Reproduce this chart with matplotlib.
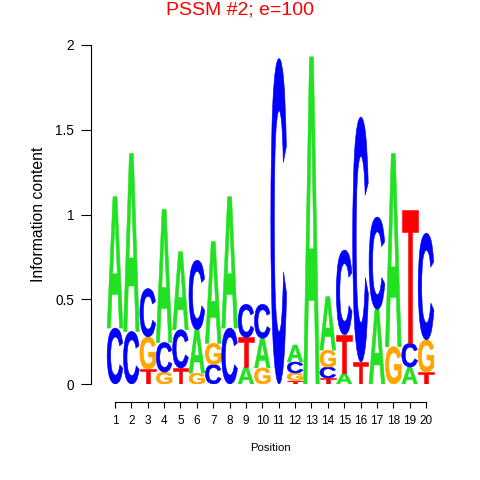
import matplotlib
matplotlib.use("Agg")
import matplotlib.pyplot as plt
from matplotlib.textpath import TextPath
from matplotlib.font_manager import FontProperties
from matplotlib.patches import PathPatch
from matplotlib.transforms import Affine2D

positions = list(range(1, 21))
A_h = [0.775, 1.05, 0.0, 0.785, 0.46, 0.256, 0.60, 0.775, 0.10, 0.175,
       0.0, 0.10, 1.93, 0.315, 0.064, 0.0, 0.44, 1.14, 0.10, 0.0]
C_h = [0.33, 0.31, 0.285, 0.175, 0.226, 0.41, 0.115, 0.33, 0.195, 0.20,
       1.92, 0.065, 0.0, 0.065, 0.50, 1.445, 0.545, 0.0, 0.14, 0.63]
G_h = [0.0, 0.0, 0.19, 0.07, 0.0, 0.064, 0.125, 0.0, 0.0, 0.095,
       0.0, 0.045, 0.0, 0.10, 0.0, 0.0, 0.0, 0.22, 0.0, 0.19]
T_h = [0.0, 0.0, 0.088, 0.0, 0.094, 0.0, 0.0, 0.0, 0.175, 0.0,
       0.0, 0.02, 0.0, 0.035, 0.226, 0.13, 0.0, 0.0, 0.785, 0.07]
colors = {"A": "#22E022", "C": "#0000FF", "G": "#FFA500", "T": "#FF0000"}
title = "PSSM #2; e=100"

W, H = 480, 480
fig = plt.figure(figsize=(4.8, 4.8), dpi=100)
left_px, right_px, bottom_px, top_px = 91, 450, 384, 45
ax = fig.add_axes([left_px / W, (H - bottom_px) / H,
                   (right_px - left_px) / W, (bottom_px - top_px) / H])
unit = 16.37
x_lo = 1 - (115 - left_px) / unit
x_hi = 1 + (right_px - 115) / unit
ax.set_xlim(x_lo, x_hi)
ax.set_ylim(0, 2)

fp = FontProperties(family="Liberation Sans", weight="bold")


def draw_letter(ch, x, y0, h, w=0.96):
    tp = TextPath((0, 0), ch, size=1, prop=fp)
    bb = tp.get_extents()
    tr = (Affine2D().translate(-bb.x0, -bb.y0)
          .scale(w / bb.width, h / bb.height)
          .translate(x - w / 2, y0))
    path = tr.transform_path(tp)
    ax.add_patch(PathPatch(path, fc=colors[ch], ec=colors[ch], lw=0.4))


for i, p in enumerate(positions):
    col = [("A", A_h[i]), ("C", C_h[i]), ("G", G_h[i]), ("T", T_h[i])]
    col = [c for c in col if c[1] > 0]
    col.sort(key=lambda c: c[1])
    y = 0.0
    for ch, h in col:
        draw_letter(ch, p, y, h)
        y += h

for s in ("top", "right"):
    ax.spines[s].set_visible(False)
ax.spines["bottom"].set_position(("outward", 13))
ax.spines["bottom"].set_bounds(1, 20)
ax.spines["left"].set_bounds(0, 2)
ax.set_xticks(positions)
ax.set_xticklabels([str(p) for p in positions], fontsize=8.5,
                   family="Liberation Sans")
ax.set_yticks([0, 0.5, 1, 1.5, 2])
ax.set_yticklabels(["0", "0.5", "1", "1.5", "2"], fontsize=9.8,
                   family="Liberation Sans")
ax.tick_params(axis="x", length=4.5, width=0.8, pad=5)
ax.tick_params(axis="y", length=7.5, width=0.8, pad=4.5)
ax.set_xlabel("Position", fontsize=8.2, family="Liberation Sans", labelpad=11)
ax.set_ylabel("Information content", fontsize=11.3, family="Liberation Sans",
              labelpad=7)
fig.text(240 / W, 1 - 10 / H, title, color="#FF0000", fontsize=14,
         family="Liberation Sans", ha="center", va="center")
fig.savefig("out.png", dpi=100)
